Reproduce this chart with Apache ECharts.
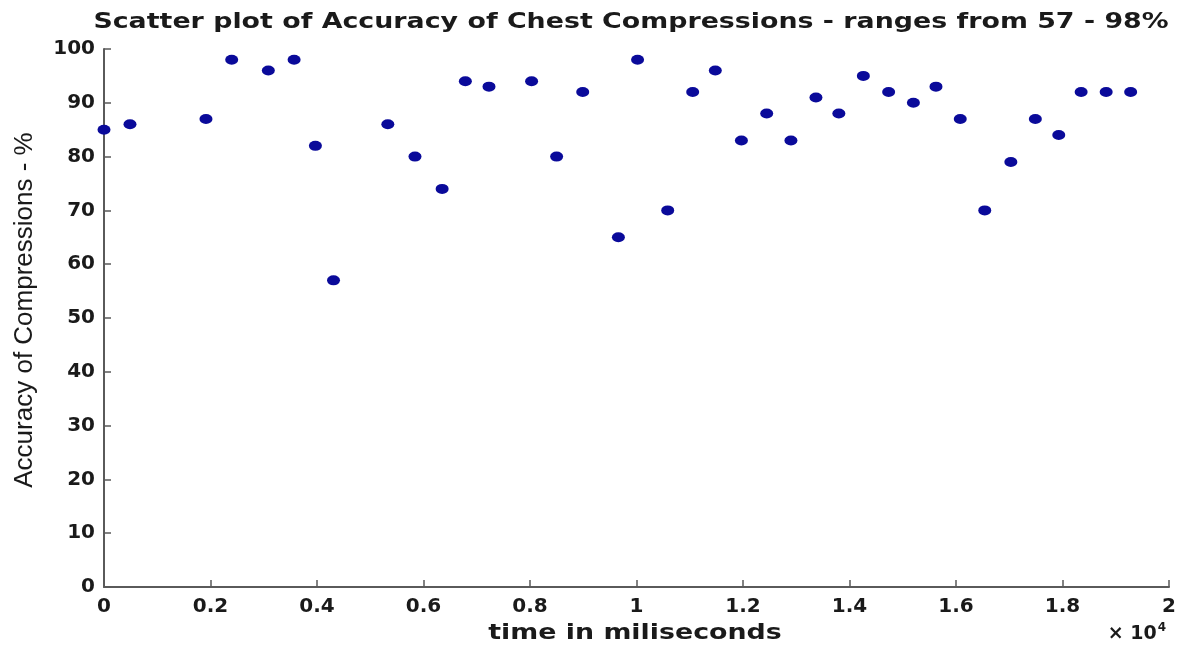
<!DOCTYPE html>
<html>
<head>
<meta charset="utf-8">
<title>Accuracy of Chest Compressions</title>
<script src="https://cdn.jsdelivr.net/npm/echarts@6/dist/echarts.min.js"></script>
<style>
  html, body { margin: 0; padding: 0; background: #ffffff; }
  #chart { width: 1182px; height: 651px; }
</style>
</head>
<body>
<div id="chart"></div>
<script>
// Sample times (ms) and measured compression accuracy (%)
const timeMs = [
  0, 488, 1915, 2398, 3086, 3570, 3970, 4310, 5330, 5840, 6350, 6786, 7230,
  8030, 8500, 8990, 9660, 10020, 10586, 11055, 11480, 11970, 12445, 12900,
  13370, 13800, 14260, 14735, 15200, 15624, 16080, 16540, 17030, 17490,
  17930, 18350, 18820, 19280
];
const accuracy = [
  85, 86, 87, 98, 96, 98, 82, 57, 86, 80, 74, 94, 93,
  94, 80, 92, 65, 98, 70, 92, 96, 83, 88, 83,
  91, 88, 95, 92, 90, 93, 87, 70, 79, 87,
  84, 92, 92, 92
];
const xTickScale = 10000;   // x tick labels are shown in units of 10^4 ms

const titleText = 'Scatter plot of Accuracy of Chest Compressions - ranges from 57 - 98%';
const xAxisTitle = 'time in miliseconds';
const yAxisTitle = 'Accuracy of Compressions - %';

const points = timeMs.map((t, i) => [t, accuracy[i]]);

const axisColor = '#5a5a5a';
const textColor = '#1a1a1a';
const boldFont = 'DejaVu Sans, sans-serif';
const plainFont = 'Liberation Sans, Arial, sans-serif';

const chart = echarts.init(document.getElementById('chart'));
chart.setOption({
  backgroundColor: '#ffffff',
  animation: false,
  grid: { left: 104, right: 13, top: 49, bottom: 64 },
  xAxis: {
    type: 'value',
    min: 0,
    max: 20000,
    interval: 2000,
    axisLine: { show: true, lineStyle: { color: axisColor, width: 2 } },
    axisTick: { show: true, inside: true, length: 7, lineStyle: { color: axisColor, width: 1.5 } },
    splitLine: { show: false },
    axisLabel: {
      margin: 10,
      fontFamily: boldFont,
      fontWeight: 'bold',
      fontSize: 20,
      color: textColor,
      formatter: v => String(+(v / xTickScale).toFixed(2))
    }
  },
  yAxis: {
    type: 'value',
    min: 0,
    max: 100,
    interval: 10,
    name: yAxisTitle,
    nameLocation: 'middle',
    nameGap: 66,
    nameTextStyle: {
      fontFamily: plainFont,
      fontSize: 26,
      color: textColor,
      padding: [0, 0, 0, 16]
    },
    axisLine: { show: true, lineStyle: { color: axisColor, width: 2 } },
    axisTick: { show: true, inside: true, length: 7, lineStyle: { color: axisColor, width: 1.5 } },
    splitLine: { show: false },
    axisLabel: {
      margin: 9,
      fontFamily: boldFont,
      fontWeight: 'bold',
      fontSize: 20,
      color: textColor
    }
  },
  graphic: [
    {
      // chart title, set in a wide bold face
      type: 'text',
      x: 631,
      y: 22,
      scaleX: 1.22,
      style: {
        text: titleText,
        textAlign: 'center',
        textVerticalAlign: 'middle',
        fontFamily: boldFont,
        fontWeight: 'bold',
        fontSize: 22,
        fill: textColor
      }
    },
    {
      // x axis title
      type: 'text',
      x: 635,
      y: 633,
      scaleX: 1.22,
      style: {
        text: xAxisTitle,
        textAlign: 'center',
        textVerticalAlign: 'middle',
        fontFamily: boldFont,
        fontWeight: 'bold',
        fontSize: 22,
        fill: textColor
      }
    },
    {
      // exponent of the x tick labels
      type: 'text',
      right: 16,
      top: 622,
      style: {
        text: '{b|× 10}{s|4}',
        rich: {
          b: { fontFamily: boldFont, fontWeight: 'bold', fontSize: 19, fill: textColor, verticalAlign: 'bottom' },
          s: { fontFamily: boldFont, fontWeight: 'bold', fontSize: 12, fill: textColor, verticalAlign: 'top', padding: [0, 0, 10, 1] }
        }
      }
    }
  ],
  series: [{
    type: 'scatter',
    data: points,
    symbol: 'circle',
    symbolSize: [13, 10],
    itemStyle: { color: '#0a0a9a', opacity: 1 }
  }]
});
</script>
</body>
</html>
